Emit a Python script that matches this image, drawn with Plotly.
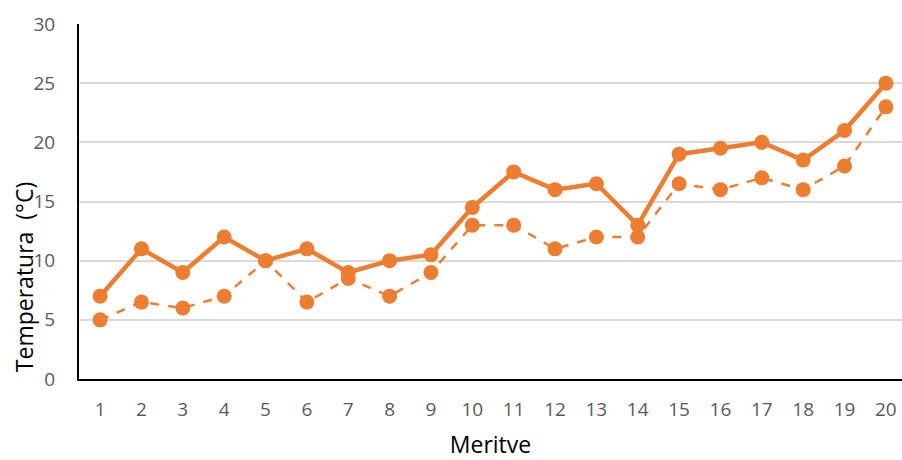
import plotly.graph_objects as go

meritve = list(range(1, 21))
tick_labels = [str(i) for i in meritve]
serija_polna = [7, 11, 9, 12, 10, 11, 9, 10, 10.5, 14.5, 17.5, 16, 16.5, 13, 19, 19.5, 20, 18.5, 21, 25]
serija_crtkana = [5, 6.5, 6, 7, 10, 6.5, 8.5, 7, 9, 13, 13, 11, 12, 12, 16.5, 16, 17, 16, 18, 23]

orange = "#ED7D31"
fig = go.Figure()
fig.add_trace(go.Scatter(x=meritve, y=serija_crtkana, mode="lines+markers",
                         line=dict(color=orange, width=2.5, dash="dash"),
                         marker=dict(color=orange, size=15), showlegend=False))
fig.add_trace(go.Scatter(x=meritve, y=serija_polna, mode="lines+markers",
                         line=dict(color=orange, width=4.5),
                         marker=dict(color=orange, size=15), showlegend=False))

font_fam = "Open Sans, Liberation Sans, Arial, sans-serif"
fig.update_layout(
    width=902, height=460,
    margin=dict(l=79, r=0, t=24, b=81),
    plot_bgcolor="white", paper_bgcolor="white",
    font=dict(family=font_fam, color="#595959", size=19),
    xaxis=dict(range=[0.49, 20.39], tickmode="array", tickvals=meritve, ticktext=tick_labels,
               showgrid=False, showline=True, linecolor="black", linewidth=2,
               ticks="", ticklabelstandoff=12, zeroline=False, automargin=False,
               tickfont=dict(size=19),
               title=dict(text="Meritve", standoff=22, font=dict(size=23, color="#000000"))),
    yaxis=dict(range=[0, 30], dtick=5, showgrid=True, gridcolor="#D9D9D9", gridwidth=1.5,
               showline=True, linecolor="black", linewidth=2, zeroline=False,
               ticks="", ticklabelstandoff=18, automargin=False,
               tickfont=dict(size=19)),
    annotations=[dict(text="Temperatura  (°C)", textangle=-90, showarrow=False,
                      xref="paper", yref="paper", x=-0.0668, y=0.287,
                      xanchor="center", yanchor="middle",
                      font=dict(size=23, color="#000000", family=font_fam))],
)
fig.write_html("out.html", config={"displayModeBar": False},
               post_script="document.body.style.margin='0';document.body.style.overflow='hidden';")
